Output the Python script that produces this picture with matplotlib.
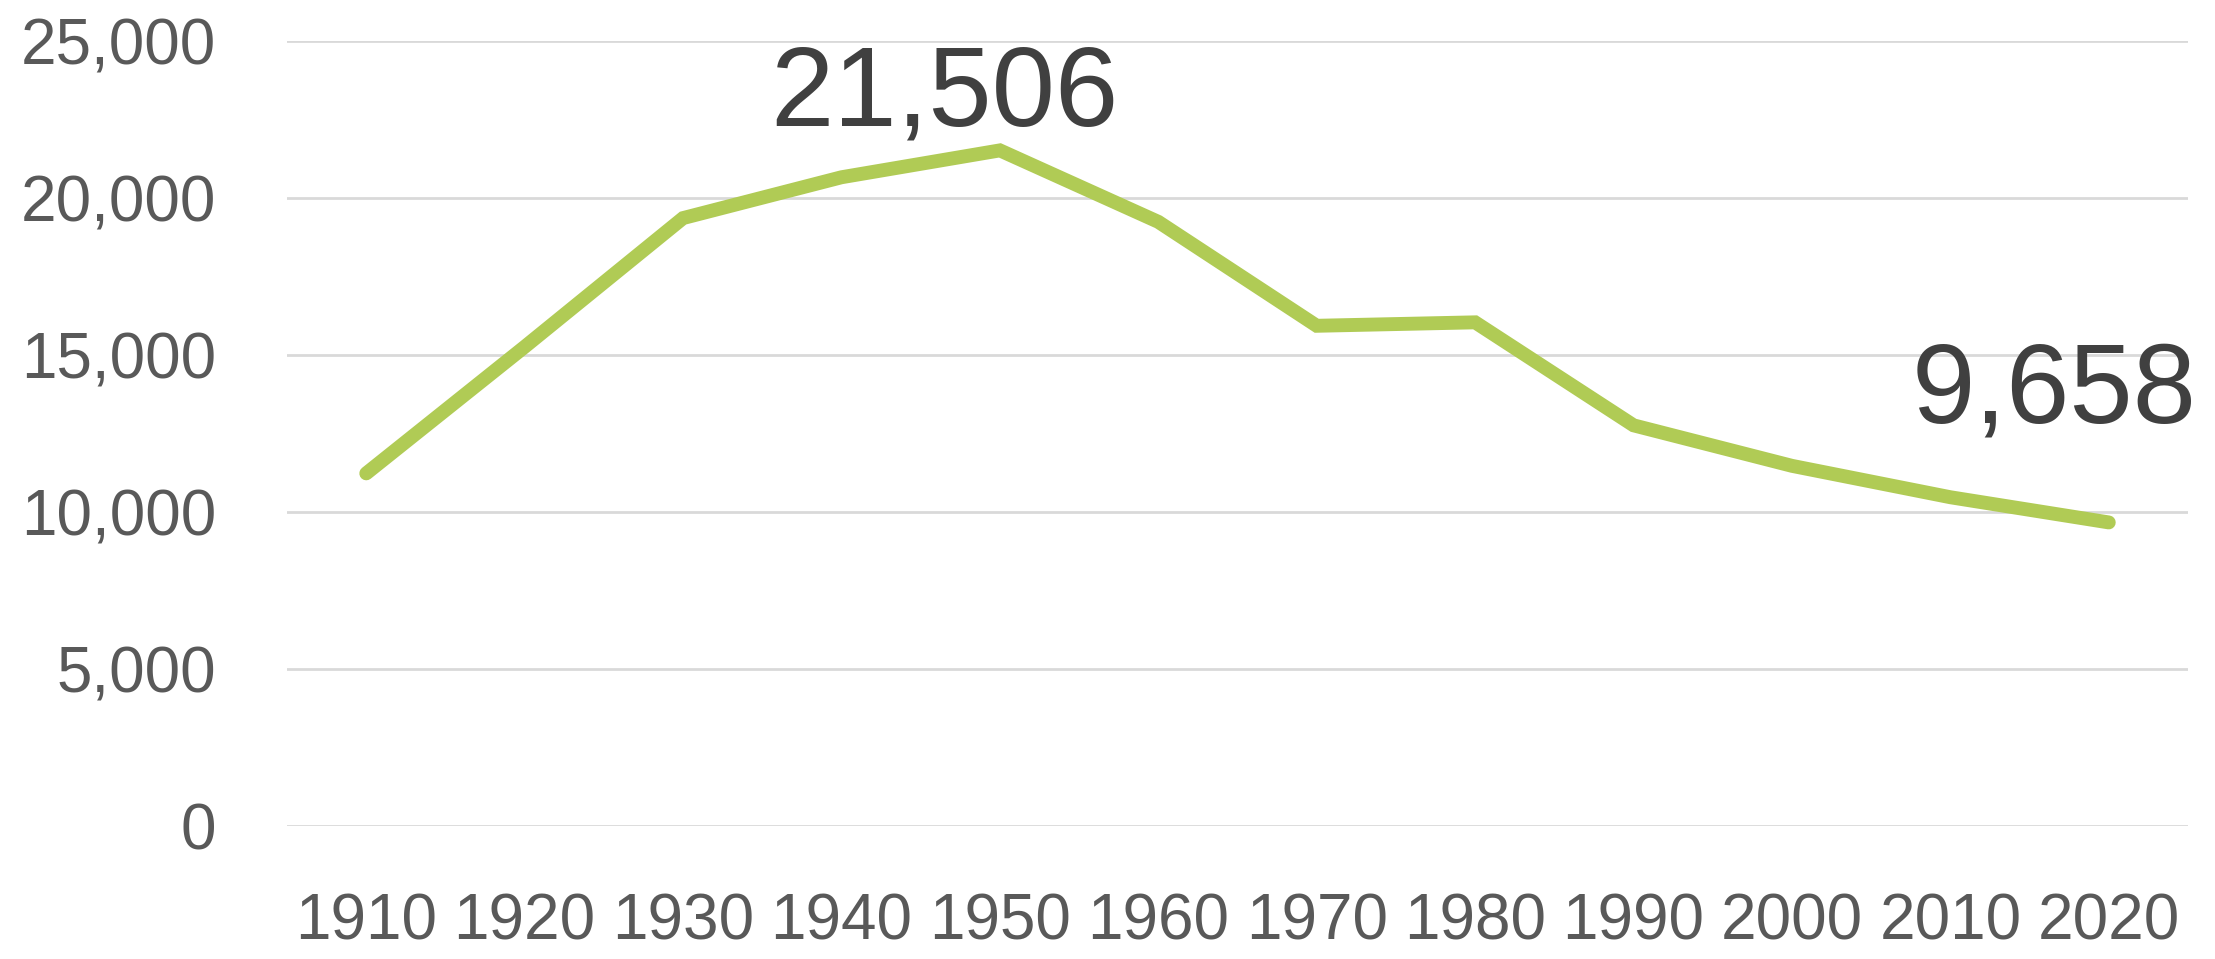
import matplotlib
matplotlib.use("Agg")
import matplotlib.pyplot as plt
import numpy as np

years = ["1910", "1920", "1930", "1940", "1950", "1960",
         "1970", "1980", "1990", "2000", "2010", "2020"]
population = [11220, 15250, 19350, 20650, 21506, 19230,
              15920, 16030, 12750, 11460, 10460, 9658]
y_ticks = [0, 5000, 10000, 15000, 20000, 25000]

plt.rcParams["font.family"] = ["Liberation Sans", "DejaVu Sans"]

fig = plt.figure(figsize=(22.15, 9.59), dpi=100)
ax = fig.add_axes([0.1296, 0.139, 0.9878 - 0.1296, 0.9576 - 0.139])

x = np.arange(len(years))
ax.plot(x, population, color="#B0CB55", linewidth=10,
        solid_capstyle="round", solid_joinstyle="miter", zorder=3)

ax.set_xlim(-0.5, len(years) - 0.5)
ax.set_ylim(0, 25000)
ax.set_yticks(y_ticks)
ax.set_yticklabels(["{:,}".format(v) for v in y_ticks])
ax.set_xticks(x)
ax.set_xticklabels(years)

ax.grid(axis="y", color="#D9D9D9", linewidth=2)
ax.set_axisbelow(True)
for s in ax.spines.values():
    s.set_visible(False)
ax.tick_params(axis="both", length=0, labelsize=46, labelcolor="#595959")
ax.tick_params(axis="y", pad=51)
ax.tick_params(axis="x", pad=48)

# labels for the peak and the latest value
i_max = int(np.argmax(population))
ax.annotate("{:,}".format(population[i_max]), (x[i_max], population[i_max]),
            xytext=(-40, 18), textcoords="offset points",
            ha="center", va="baseline", fontsize=82, color="#404040")
i_last = len(population) - 1
ax.annotate("{:,}".format(population[i_last]), (x[i_last], population[i_last]),
            xytext=(-39, 72), textcoords="offset points",
            ha="center", va="baseline", fontsize=82, color="#404040")

fig.savefig("out.png", dpi=100)
